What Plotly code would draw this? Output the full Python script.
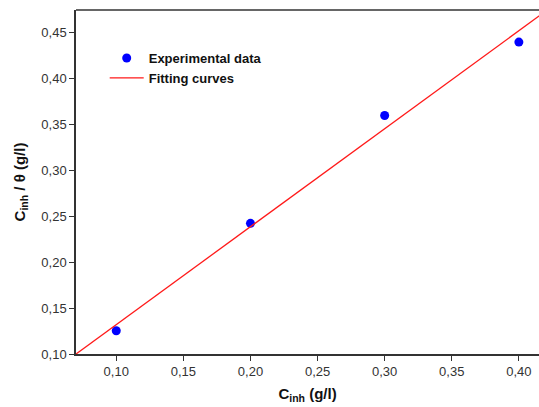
import plotly.graph_objects as go

# Data
conc = [0.10, 0.20, 0.30, 0.40]
c_over_theta = [0.1253, 0.2424, 0.360, 0.440]
fit_slope = 1.068
fit_intercept = 0.0252
fit_x = [0.07, 0.42]
fit_y = [fit_slope * x + fit_intercept for x in fit_x]

x_ticks = [0.10, 0.15, 0.20, 0.25, 0.30, 0.35, 0.40]
x_ticklabels = ["0,10", "0,15", "0,20", "0,25", "0,30", "0,35", "0,40"]
y_ticks = [0.10, 0.15, 0.20, 0.25, 0.30, 0.35, 0.40, 0.45]
y_ticklabels = ["0,10", "0,15", "0,20", "0,25", "0,30", "0,35", "0,40", "0,45"]

FONT = "Liberation Sans, Arial, sans-serif"

fig = go.Figure()
fig.add_trace(go.Scatter(
    x=conc, y=c_over_theta, mode="markers", name="Experimental data",
    marker=dict(color="#0000ff", size=9),
))
fig.add_trace(go.Scatter(
    x=fit_x, y=fit_y, mode="lines", name="Fitting curves",
    line=dict(color="#ff1a1a", width=1.3),
))

axis_common = dict(
    showline=True, linecolor="#333333", linewidth=1.5,
    ticks="outside", ticklen=5, tickwidth=1.3, tickcolor="#333333",
    showgrid=False, zeroline=False, automargin=False,
    tickfont=dict(family=FONT, size=13, color="#333333"),
)

fig.update_layout(
    width=539, height=407,
    margin=dict(l=76, r=0, t=10, b=53),
    paper_bgcolor="white", plot_bgcolor="white",
    showlegend=True,
    legend=dict(
        x=0.062, y=0.904, xanchor="left", yanchor="top",
        bgcolor="rgba(0,0,0,0)",
        font=dict(family=FONT, size=13, color="#111111", weight="bold"),
        tracegroupgap=0, itemwidth=34,
    ),
    xaxis=dict(
        range=[0.07, 0.415], tickvals=x_ticks, ticktext=x_ticklabels,
        title=dict(text="C<sub>inh</sub> (g/l)", standoff=10,
                   font=dict(family=FONT, size=15, color="#111111", weight="bold")),
        **axis_common,
    ),
    yaxis=dict(
        range=[0.10, 0.475], tickvals=y_ticks, ticktext=y_ticklabels,
        title=dict(text="C<sub>inh</sub> / θ (g/l)", standoff=12,
                   font=dict(family=FONT, size=15, color="#111111", weight="bold")),
        **axis_common,
    ),
    shapes=[dict(type="line", xref="paper", yref="paper", x0=0, x1=1, y0=1, y1=1,
                 line=dict(color="#333333", width=1.5))],
)

fig.write_html("out.html", config={"displayModeBar": False},
               post_script="document.body.style.margin='0';document.body.style.overflow='hidden';")
